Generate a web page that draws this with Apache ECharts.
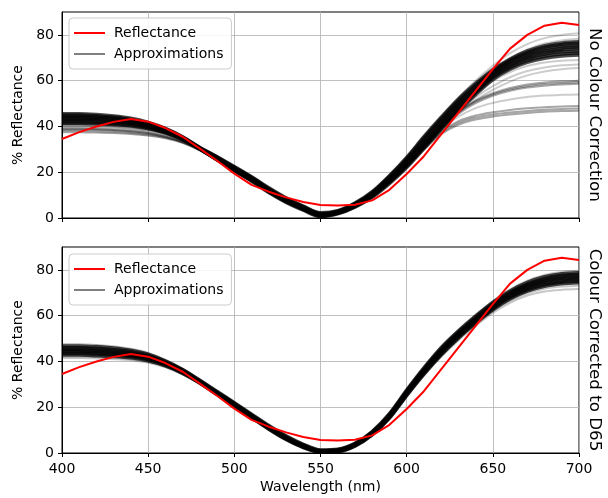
<!DOCTYPE html>
<html>
<head>
<meta charset="utf-8">
<script src="https://cdn.jsdelivr.net/npm/echarts@6/dist/echarts.min.js"></script>
<style>html,body{margin:0;padding:0;background:#fff}#c{width:608px;height:498px}</style>
</head>
<body>
<div id="c"></div>
<script>
const wavelengths = [400,410,420,430,440,450,460,470,480,490,500,510,520,530,540,550,560,570,580,590,600,610,620,630,640,650,660,670,680,690,700];
const reflectance = [34.5,37.5,40,42,43.3,42.1,39.3,35.5,30.3,25,19.4,14.5,11.5,9,7,5.7,5.5,5.8,7.7,12.3,19.2,27,36.5,46,55.5,65,74,80,84,85.3,84.3];
const xTicks = [400,450,500,550,600,650,700];
const yTicks = [0,20,40,60,80];

// No colour correction: dense approximations
const topDense = [
 [45.5,45.5,45.2,44.6,43.6,41.8,39.2,35.5,30.8,26.8,22.5,18,13.2,8.8,5.2,2.3,3.2,6.5,11.5,18.5,26.5,35.5,44,52,58.8,64.8,69.5,73,75.3,76.5,77],
 [45,45,44.7,44.1,43.1,41.4,38.9,35.3,30.7,26.6,22.2,17.8,12.9,8.5,5,2,3,6.3,11.2,18.1,26,35,43.4,51.3,58.2,64.3,69,72.4,74.6,75.8,76.3],
 [44.3,44.3,44,43.5,42.6,41,38.6,35.1,30.6,26.4,22,17.6,12.6,8.2,4.8,1.8,2.8,6.1,10.9,17.6,25.3,34,42.5,50.5,57.4,63.6,68.4,71.7,73.8,75,75.5],
 [43.8,43.8,43.5,43,42.2,40.7,38.4,35,30.5,26.2,21.8,17.3,12.3,8,4.5,1.5,2.6,5.8,10.5,17,24.6,33.2,41.7,49.7,56.7,63,67.8,71,73,74.2,74.7],
 [43.2,43.2,43,42.5,41.7,40.3,38.1,34.8,30.4,26,21.5,17,12,7.7,4.3,1.3,2.4,5.5,10.1,16.5,24,32.5,41,49,56,62.4,67.1,70.3,72.3,73.4,73.9],
 [42.6,42.6,42.4,42,41.3,39.9,37.8,34.6,30.3,25.8,21.2,16.7,11.7,7.4,4,1,2.2,5.2,9.7,16,23.3,31.8,40.2,48.2,55.3,61.8,66.4,69.6,71.5,72.6,73],
 [42,42,41.8,41.4,40.8,39.5,37.5,34.4,30.2,25.6,20.9,16.4,11.4,7.1,3.7,0.8,2,5,9.4,15.5,22.6,31,39.4,47.4,54.6,61.2,65.7,68.8,70.7,71.7,72.1],
 [41.4,41.4,41.2,40.9,40.3,39.1,37.2,34.2,30.1,25.4,20.6,16.1,11.1,6.8,3.4,0.6,1.8,4.7,9,15,22,30.3,38.7,46.7,53.9,60.5,65,68,69.8,70.8,71.2]
];
// No colour correction: medium-density groups (around 58 and 47 at 700 nm)
const topGroups = [
 [41,41,40.8,40.4,39.8,38.7,36.9,34,30,25.5,21,16.5,11.5,7.3,3.9,1.1,2.2,5.3,9.8,16,23.2,31.3,39.5,46.2,50.8,54,56.2,57.6,58.5,59,59.3],
 [40.5,40.5,40.3,40,39.4,38.4,36.7,33.9,29.9,25.4,20.9,16.4,11.4,7.2,3.8,1,2.1,5.2,9.7,15.8,23,31,39,45.5,50.2,53.4,55.6,57,57.8,58.3,58.6],
 [41.5,41.5,41.3,40.9,40.3,39.1,37.2,34.2,30.1,25.6,21.1,16.6,11.6,7.4,4,1.2,2.3,5.4,9.9,16.2,23.4,31.5,39.8,46.6,51.3,54.5,56.8,58.3,59.2,59.7,60],
 [38.5,38.5,38.3,38,37.5,36.7,35.3,33.1,29.7,25.1,20.6,16.1,11.2,7,3.6,0.9,2,5,9.4,15.5,22.6,30.2,37.2,41.5,43.9,45.2,46.1,46.8,47.3,47.6,47.8],
 [37.5,37.5,37.3,37.1,36.7,36,34.8,32.8,29.5,25,20.5,16,11.1,6.9,3.5,0.8,1.9,4.9,9.3,15.3,22.3,29.8,36.6,40.7,43,44.3,45.2,45.9,46.4,46.7,46.9],
 [39,39,38.8,38.5,37.9,37,35.5,33.2,29.7,25.2,20.7,16.2,11.3,7.1,3.7,1,2.1,5.1,9.5,15.6,22.8,30.6,37.8,42.3,44.8,46.2,47.2,47.9,48.4,48.7,48.9]
];
// No colour correction: faint single approximations
const topFaint = [
 [44.5,44.5,44.2,43.7,42.8,41.2,38.7,35.2,30.6,26.5,22.2,17.8,12.8,8.4,5,2,3.2,6.5,11.5,18.5,26.5,35.5,44.2,52.5,60,66.5,72,76,78.6,80,80.7],
 [43,43,42.8,42.3,41.5,40.1,38,34.7,30.4,25.9,21.4,16.9,11.9,7.6,4.2,1.2,2.4,5.6,10.3,16.8,24.5,33.3,42,50.3,57.8,64.2,69.6,73.6,76.2,77.6,78.3],
 [40,40,39.8,39.4,38.8,37.7,36.2,33.7,30,25.3,20.8,16.3,11.4,7.2,3.8,1,2.2,5.2,9.8,16.1,23.6,32,40.3,48,54.5,59.8,63.8,66.4,67.9,68.7,69],
 [39,39,38.8,38.4,37.9,37,35.6,33.3,29.8,25.1,20.6,16.1,11.2,7,3.6,0.9,2,5,9.5,15.7,23.1,31.4,39.5,46.8,52.8,57.6,61.5,64.2,65.8,66.7,67.1],
 [38,38,37.8,37.5,37,36.2,35,32.9,29.6,25,20.5,16,11.1,6.9,3.5,0.8,1.9,4.9,9.3,15.4,22.7,30.9,38.8,45.8,51.5,56,59.6,62.3,64,65,65.5],
 [39.5,39.5,39.3,39,38.4,37.5,35.9,33.5,29.8,25.2,20.7,16.2,11.3,7.1,3.7,0.9,2.1,5.1,9.5,15.6,22.8,30.7,38.6,44.3,48,50.3,51.8,52.9,53.5,53.8,54]
];
// Colour corrected to D65: dense approximations
const bottomDense = [
 [46.8,46.8,46.5,45.9,44.9,43.2,40.3,36.5,31.8,26.9,22,17,12,7.5,3.8,1.3,1.6,4.2,9.4,17.2,27.5,37.2,46,53.3,59.8,65.8,70.8,74.5,77,78.3,78.8],
 [46,46,45.7,45.1,44.2,42.6,39.8,36.2,31.5,26.6,21.6,16.6,11.6,7.1,3.5,1.1,1.4,4,9.1,16.8,27.1,36.7,45.4,52.7,59.2,65.2,70.2,73.8,76.2,77.5,78],
 [45.3,45.3,45,44.5,43.6,42.1,39.4,35.9,31.3,26.3,21.3,16.3,11.3,6.8,3.2,1,1.2,3.8,8.8,16.4,26.7,36.2,44.9,52.2,58.7,64.7,69.6,73.2,75.5,76.8,77.3],
 [44.7,44.7,44.4,43.9,43.1,41.7,39.1,35.6,31.1,26.1,21.1,16.1,11.1,6.6,3,0.8,1,3.6,8.6,16.1,26.3,35.8,44.4,51.7,58.2,64.2,69.1,72.6,74.9,76.1,76.6],
 [44.1,44.1,43.8,43.4,42.6,41.2,38.8,35.4,30.9,25.9,20.9,15.9,10.9,6.4,2.8,0.6,0.9,3.4,8.4,15.8,25.9,35.3,43.8,51.2,57.7,63.6,68.5,72,74.2,75.4,75.9],
 [43.5,43.5,43.2,42.8,42.1,40.8,38.5,35.1,30.7,25.7,20.6,15.6,10.6,6.1,2.6,0.5,0.7,3.2,8.1,15.5,25.5,34.9,43.3,50.7,57.2,63.1,67.9,71.3,73.5,74.6,75.1],
 [42.8,42.8,42.5,42.2,41.6,40.3,38.1,34.8,30.5,25.5,20.4,15.4,10.4,5.9,2.4,0.3,0.5,3,7.9,15.2,25.1,34.4,42.8,50.2,56.7,62.6,67.3,70.7,72.8,73.9,74.4]
];
// Colour corrected to D65: faint approximations
const bottomFaint = [
 [47.6,47.6,47.2,46.6,45.5,43.7,40.7,36.8,32,27.1,22.1,17.1,12.1,7.6,3.9,1.4,1.7,4.3,9.6,17.5,27.8,37.6,46.5,53.8,60.4,66.4,71.5,75.3,77.8,79.1,79.6],
 [41.5,41.5,41.3,41,40.5,39.4,37.4,34.3,30.2,25.2,20.2,15.2,10.2,5.7,2.2,0.2,0.4,2.8,7.6,14.8,24.6,33.8,42,49.2,55.5,61.2,65.6,68.8,70.6,71.3,71.6],
 [42.2,42.2,41.9,41.6,41,39.9,37.8,34.6,30.4,25.4,20.3,15.3,10.3,5.8,2.3,0.3,0.5,2.9,7.8,15,24.9,34.2,42.5,49.8,56.2,62,66.5,69.8,71.8,72.7,73.1]
];

const FONT = 'DejaVu Sans';
const chart = echarts.init(document.getElementById('c'), null, {renderer: 'canvas'});

function pairs(vals) { return wavelengths.map((w, i) => [w, vals[i]]); }
function approxSeries(list, gridIdx, opacity, width) {
  return list.map(v => ({
    type: 'line', xAxisIndex: gridIdx, yAxisIndex: gridIdx, data: pairs(v),
    showSymbol: false, symbol: 'none', silent: true, smooth: 0.3,
    lineStyle: {color: '#000', opacity: opacity, width: width}, z: 2
  }));
}

const series = [];
series.push(...approxSeries(topFaint, 0, 0.2, 2));
series.push(...approxSeries(topGroups, 0, 0.35, 2));
series.push(...approxSeries(topDense, 0, 0.7, 3.5));
series.push(...approxSeries(bottomFaint, 1, 0.22, 2));
series.push(...approxSeries(bottomDense, 1, 0.75, 3.5));
series.push({type: 'line', name: 'Approximations', xAxisIndex: 0, yAxisIndex: 0, data: [], symbol: 'none', color: '#808080', lineStyle: {color: '#808080', width: 2}});
[0, 1].forEach(g => series.push({
  type: 'line', name: 'Reflectance', xAxisIndex: g, yAxisIndex: g, data: pairs(reflectance),
  symbol: 'none', showSymbol: false, color: '#ff0000', lineStyle: {color: '#ff0000', width: 2}, z: 5
}));

function xAxis(g, showLabels) {
  return {
    type: 'value', gridIndex: g, min: 400, max: 700, interval: 50,
    axisLine: {show: true, onZero: false, lineStyle: {color: '#000', width: 1}},
    axisTick: {show: true, length: 4, lineStyle: {color: '#000'}},
    axisLabel: {show: showLabels, margin: 9, fontFamily: FONT, fontSize: 14, color: '#000', customValues: xTicks},
    splitLine: {show: true, lineStyle: {color: '#b0b0b0', width: 0.8}},
    name: showLabels ? 'Wavelength (nm)' : '', nameLocation: 'middle', nameGap: 27,
    nameTextStyle: {fontFamily: FONT, fontSize: 14, color: '#000'}
  };
}
function yAxis(g) {
  return {
    type: 'value', gridIndex: g, min: 0, max: 90, interval: 20,
    axisLine: {show: true, lineStyle: {color: '#000', width: 1}},
    axisTick: {show: true, length: 4, lineStyle: {color: '#000'}, customValues: yTicks},
    axisLabel: {margin: 8, fontFamily: FONT, fontSize: 14, color: '#000', customValues: yTicks},
    splitLine: {show: true, lineStyle: {color: '#b0b0b0', width: 0.8}},
    name: '% Reflectance', nameLocation: 'middle', nameGap: 32, nameRotate: 90,
    nameTextStyle: {fontFamily: FONT, fontSize: 14, color: '#000'}
  };
}
function legend(top) {
  return {
    data: ['Reflectance', 'Approximations'], orient: 'vertical', left: 69, top: top,
    icon: 'rect', itemWidth: 31, itemHeight: 2, itemGap: 7,
    padding: [8, 8, 8, 5],
    backgroundColor: 'rgba(255,255,255,0.85)', borderColor: '#cccccc', borderWidth: 1, borderRadius: 4,
    textStyle: {fontFamily: FONT, fontSize: 14, color: '#000', padding: [0, 0, 0, 4]},
    selectedMode: false
  };
}

chart.setOption({
  animation: false,
  backgroundColor: '#fff',
  grid: [
    {left: 62, top: 12, width: 517, height: 206, show: true, borderColor: '#000', borderWidth: 1},
    {left: 62, top: 247, width: 517, height: 206, show: true, borderColor: '#000', borderWidth: 1}
  ],
  xAxis: [xAxis(0, false), xAxis(1, true)],
  yAxis: [yAxis(0), yAxis(1)],
  legend: [legend(18), legend(254)],
  graphic: [
    {type: 'text', x: 594, y: 115, rotation: -Math.PI / 2,
     style: {text: 'No Colour Correction', fontFamily: FONT, fontSize: 16.7, fill: '#000', textAlign: 'center', textVerticalAlign: 'middle'}},
    {type: 'text', x: 594, y: 350, rotation: -Math.PI / 2,
     style: {text: 'Colour Corrected to D65', fontFamily: FONT, fontSize: 16.7, fill: '#000', textAlign: 'center', textVerticalAlign: 'middle'}}
  ],
  series: series
});
</script>
</body>
</html>
